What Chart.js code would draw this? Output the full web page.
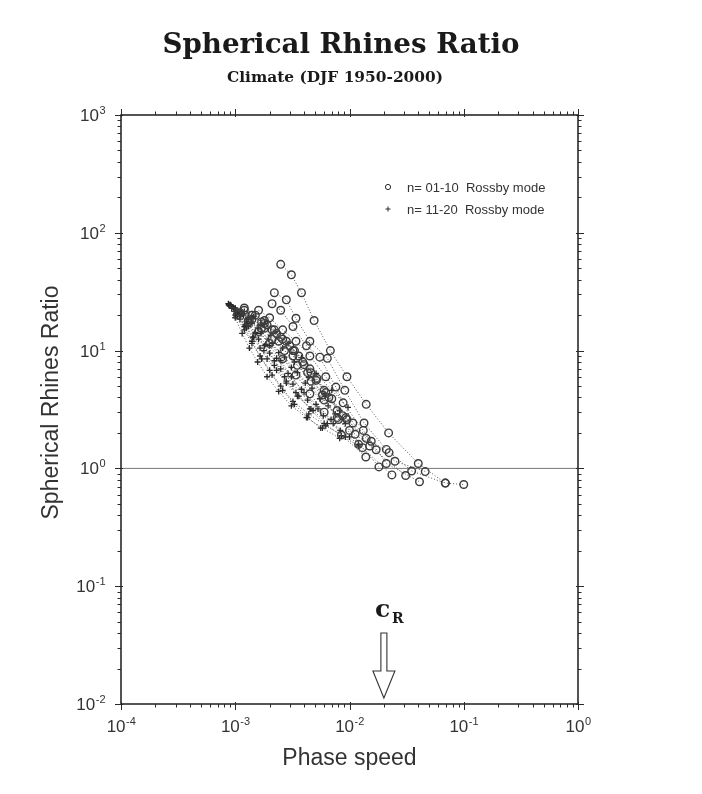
<!DOCTYPE html>
<html>
<head>
<meta charset="utf-8">
<title>Spherical Rhines Ratio</title>
<script src="https://cdn.jsdelivr.net/npm/chart.js@4.4.1/dist/chart.umd.min.js"></script>
<style>
html,body{margin:0;padding:0;background:#fff;}
canvas{display:block;}
</style>
</head>
<body>
<canvas id="chart" width="702" height="794"></canvas>
<script>
/* Values */
const xExponents=[-4,-3,-2,-1,0];
const yExponents=[-2,-1,0,1,2,3];

// n = 01-10 Rossby modes (circles), one array per dotted curve
const circleX=[
  [0.0025,0.0031,0.0038,0.0049,0.0068,0.0095,0.014,0.022,0.040,0.069,0.1],
  [0.0022,0.0028,0.0034,0.0045,0.0064,0.0091,0.0134,0.021,0.035,0.069],
  [0.0021,0.0025,0.0032,0.0042,0.0055,0.0076,0.0107,0.0155,0.025,0.046],
  [0.0016,0.0020,0.0026,0.0034,0.0045,0.0062,0.0088,0.0132,0.021,0.041],
  [0.0012,0.0015,0.0019,0.0025,0.0033,0.0045,0.0062,0.0093,0.0150,0.031],
  [0.0011,0.0014,0.0018,0.0024,0.0032,0.0043,0.0058,0.0078,0.0120,0.0235],
  [0.0014,0.0018,0.0023,0.0030,0.0039,0.0052,0.0070,0.0095,0.0140,0.0222],
  [0.0018,0.0022,0.0028,0.0036,0.0046,0.0060,0.0078,0.0100,0.0130,0.0181],
  [0.0013,0.0017,0.0021,0.0027,0.0035,0.0046,0.0060,0.0080,0.0112,0.0171],
  [0.00105,0.0013,0.0016,0.0020,0.0026,0.0034,0.0045,0.0060,0.0085,0.0139],
  [0.0012,0.0014,0.0017,0.0021,0.0026,0.0032,0.0040,0.0051,0.0066,0.0087]
];
const circleY=[
  [54,44,31,18,10,6,3.5,2.0,1.1,0.75,0.73],
  [31,27,18.8,12,8.6,4.6,2.43,1.45,0.95,0.75],
  [25,22,16,11,8.8,4.9,2.43,1.7,1.15,0.94],
  [22,19,15,12,9,6,3.6,2.1,1.1,0.77],
  [23,20,16.5,13,10,7,4.4,2.7,1.55,0.87],
  [21,18.5,15.5,12,9,6.5,4.2,2.7,1.6,0.88],
  [20,17,14,11,8,5.8,3.9,2.6,1.8,1.36],
  [18,15,12,9,6.5,4.6,3.1,2.1,1.5,1.03],
  [18,15.5,12.5,10,7.5,5.5,3.8,2.6,1.95,1.44],
  [20,17.5,14.5,11.5,8.5,6.2,4.3,3.0,1.92,1.25],
  [22,20,17.5,15,12.5,10,7.6,5.6,4,2.8]
];

// n = 11-20 Rossby modes (pluses)
const plusX=[
  [0.00087,0.0010,0.0012,0.0014,0.0017,0.0021,0.0026,0.0033,0.0043,0.0056],
  [0.00088,0.00102,0.00122,0.00145,0.00178,0.0022,0.0028,0.0036,0.0048,0.0064],
  [0.0009,0.00105,0.00126,0.0015,0.00185,0.0023,0.0029,0.0038,0.0051,0.0069],
  [0.00092,0.00108,0.0013,0.00158,0.00195,0.0024,0.0031,0.0041,0.0055,0.0075],
  [0.00095,0.00112,0.00135,0.00165,0.00205,0.0026,0.0033,0.0044,0.0060,0.0082],
  [0.00089,0.0010,0.00115,0.00133,0.00157,0.0019,0.0024,0.0031,0.0042,0.0058,0.0082],
  [0.00093,0.0011,0.0013,0.0016,0.0020,0.0025,0.0032,0.0043,0.0059,0.0083,0.012],
  [0.00097,0.00115,0.00138,0.0017,0.0021,0.0027,0.0035,0.0047,0.0065,0.0092],
  [0.0010,0.0012,0.00145,0.0018,0.00225,0.0029,0.0038,0.0051,0.0070,0.0097],
  [0.00091,0.00104,0.0012,0.0014,0.00165,0.0020,0.0025,0.0032,0.0044,0.0062,0.0092],
  [0.00088,0.00098,0.0011,0.00125,0.00142,0.00165,0.0019,0.0023,0.0028,0.0035,0.0046],
  [0.00094,0.0011,0.00128,0.0015,0.0018,0.0022,0.0027,0.0034,0.0045,0.0060,0.0085,0.012],
  [0.00099,0.00118,0.0014,0.00168,0.0020,0.0025,0.0031,0.0040,0.0053,0.0072,0.010]
];
const plusY=[
  [25,20,15,11.5,8.5,6.2,4.6,3.5,2.7,2.2],
  [24.5,20.5,16.5,13,10,7.5,5.5,4.1,3.1,2.4],
  [24,21,17.5,14.3,11.3,8.6,6.4,4.7,3.5,2.6],
  [24,21.5,18.5,15.5,12.5,9.6,7.2,5.3,3.9,2.9],
  [23.5,21.5,19,16.5,13.5,10.5,8,5.9,4.3,3.1],
  [24,19,14,10.5,8,6,4.5,3.4,2.7,2.2,1.8],
  [23,19.5,16,12.5,9.5,7,5.2,3.8,2.8,2.1,1.6],
  [23,20.5,17.5,14.5,11.5,8.8,6.5,4.8,3.4,2.4],
  [23,21.5,19.5,17,14.5,11.5,8.7,6.4,4.6,3.3],
  [24.5,21,16,12,9,6.8,5,3.7,2.9,2.3,1.85],
  [24.5,21.5,18.5,15.5,13,10.5,8.5,6.8,5.3,4.1,3.2],
  [23.5,20,17,14,11,8.2,6,4.4,3.2,2.4,1.9,1.55],
  [22.5,20,17,14,11,8.2,6,4.4,3.2,2.4,1.85]
];

// ratio = 1 reference line
const unityX=[1e-4,1];
const unityY=[1,1];

// c_R marker
const cR=0.02;

const legendLabels=['n= 01-10  Rossby mode','n= 11-20  Rossby mode'];

/* Build datasets (circles first so they sit on top) */
const pts=(xs,ys)=>xs.map((x,i)=>({x,y:ys[i]}));
const datasets=[];
circleX.forEach((xs,i)=>datasets.push({
  data:pts(xs,circleY[i]),showLine:true,
  borderColor:'#555',borderWidth:1,borderDash:[1,2],
  pointStyle:'circle',pointRadius:3.8,pointBorderWidth:1.4,
  pointBorderColor:'#3c3c3c',pointBackgroundColor:'rgba(255,255,255,0)'
}));
plusX.forEach((xs,i)=>datasets.push({
  data:pts(xs,plusY[i]),showLine:true,
  borderColor:'#555',borderWidth:1,borderDash:[1,2],
  pointStyle:'cross',pointRadius:3,pointBorderWidth:1.3,
  pointBorderColor:'#2a2a2a'
}));
datasets.push({
  data:pts(unityX,unityY),showLine:true,
  borderColor:'#777',borderWidth:1,pointRadius:0
});

/* Helpers */
function fitFont(ctx,text,weight,family,guess,targetW){
  ctx.font=`${weight} ${guess}px ${family}`;
  const s=guess*targetW/ctx.measureText(text).width;
  ctx.font=`${weight} ${s.toFixed(1)}px ${family}`;
}
function powerLabel(ctx,exp,x,y,align){
  ctx.font='17px "Liberation Sans", Arial, sans-serif';
  const w1=ctx.measureText('10').width;
  ctx.font='11px "Liberation Sans", Arial, sans-serif';
  const e=String(exp);
  const w2=ctx.measureText(e).width;
  const x0=align==='right'?x-w1-w2:x-(w1+w2)/2;
  ctx.textAlign='left';
  ctx.font='17px "Liberation Sans", Arial, sans-serif';
  ctx.fillText('10',x0,y);
  ctx.font='11px "Liberation Sans", Arial, sans-serif';
  ctx.fillText(e,x0+w1+0.5,y-7);
}

/* Frame, ticks, labels, titles, legend and arrow */
const decor={
  id:'decor',
  afterDraw(chart){
    const {ctx,chartArea:a,scales:{x,y}}=chart;
    ctx.save();
    ctx.fillStyle='#2a2a2a';ctx.strokeStyle='#2a2a2a';

    // ticks on all four sides
    ctx.lineWidth=1;
    ctx.beginPath();
    for(let e=xExponents[0];e<=xExponents[xExponents.length-1];e++){
      for(let m=1;m<=9;m++){
        const v=m*Math.pow(10,e);if(v>1.0001)break;
        const p=Math.round(x.getPixelForValue(v))+0.5;
        const L=m===1?6:3.5;
        ctx.moveTo(p,a.bottom+(m===1?-2:0));ctx.lineTo(p,a.bottom+L);
        ctx.moveTo(p,a.top+(m===1?2:0));ctx.lineTo(p,a.top-L);
      }
    }
    for(let e=yExponents[0];e<=yExponents[yExponents.length-1];e++){
      for(let m=1;m<=9;m++){
        const v=m*Math.pow(10,e);if(v>1000.01)break;
        const p=Math.round(y.getPixelForValue(v))+0.5;
        const L=m===1?6:3.5;
        ctx.moveTo(a.left+(m===1?2:0),p);ctx.lineTo(a.left-L,p);
        ctx.moveTo(a.right-(m===1?2:0),p);ctx.lineTo(a.right+L,p);
      }
    }
    ctx.stroke();

    // frame
    ctx.lineWidth=1.6;
    ctx.strokeRect(a.left,a.top,a.right-a.left,a.bottom-a.top);

    // tick labels
    ctx.fillStyle='#333';
    ctx.textBaseline='alphabetic';
    xExponents.forEach(e=>powerLabel(ctx,e,x.getPixelForValue(Math.pow(10,e)),a.bottom+28,'center'));
    yExponents.forEach(e=>powerLabel(ctx,e,a.left-16,y.getPixelForValue(Math.pow(10,e))+6,'right'));

    // axis titles
    ctx.textAlign='center';
    ctx.font='23px "Liberation Sans", Arial, sans-serif';
    ctx.fillText('Phase speed',(a.left+a.right)/2,a.bottom+61);
    ctx.save();
    ctx.translate(58,(a.top+a.bottom)/2-7);
    ctx.rotate(-Math.PI/2);
    ctx.fillText('Spherical Rhines Ratio',0,0);
    ctx.restore();

    // chart titles
    ctx.fillStyle='#1a1a1a';
    fitFont(ctx,'Spherical Rhines Ratio','bold','"DejaVu Serif", serif',25,357);
    ctx.fillText('Spherical Rhines Ratio',341,53);
    fitFont(ctx,'Climate (DJF 1950-2000)','bold','"DejaVu Serif", serif',15,216);
    ctx.fillText('Climate (DJF 1950-2000)',335,82);

    // legend
    ctx.fillStyle='#333';
    ctx.textAlign='left';
    ctx.font='13px "Liberation Sans", Arial, sans-serif';
    ctx.lineWidth=1;
    ctx.beginPath();ctx.arc(388,187,2.6,0,Math.PI*2);ctx.stroke();
    ctx.fillText(legendLabels[0],407,192);
    ctx.beginPath();
    ctx.moveTo(385.5,209);ctx.lineTo(390.5,209);
    ctx.moveTo(388,206.5);ctx.lineTo(388,211.5);
    ctx.stroke();
    ctx.fillText(legendLabels[1],407,214);

    // c_R arrow
    const cx=x.getPixelForValue(cR);
    const top=a.bottom-71,neck=a.bottom-33,tip=a.bottom-6;
    ctx.beginPath();
    ctx.moveTo(cx-3,top);ctx.lineTo(cx+3,top);ctx.lineTo(cx+3,neck);
    ctx.lineTo(cx+11,neck);ctx.lineTo(cx,tip);ctx.lineTo(cx-11,neck);
    ctx.lineTo(cx-3,neck);ctx.closePath();
    ctx.fillStyle='#fff';ctx.fill();
    ctx.strokeStyle='#333';ctx.lineWidth=1.1;ctx.stroke();
    ctx.fillStyle='#1a1a1a';
    ctx.font='bold 25px "DejaVu Serif", serif';
    ctx.fillText('c',cx-9,a.bottom-87);
    ctx.font='bold 14px "DejaVu Serif", serif';
    ctx.fillText('R',cx+8,a.bottom-81);

    ctx.restore();
  }
};

new Chart(document.getElementById('chart'),{
  type:'scatter',
  data:{datasets},
  options:{
    responsive:false,
    animation:false,
    devicePixelRatio:1,
    layout:{padding:{left:21,right:124,top:115,bottom:10}},
    plugins:{legend:{display:false},tooltip:{enabled:false},title:{display:false}},
    scales:{
      x:{type:'logarithmic',min:1e-4,max:1,
         ticks:{display:false},grid:{display:false},border:{display:false},
         afterFit(s){s.height=80;}},
      y:{type:'logarithmic',min:1e-2,max:1e3,
         ticks:{display:false},grid:{display:false},border:{display:false},
         afterFit(s){s.width=100;}}
    }
  },
  plugins:[decor]
});
</script>
</body>
</html>
